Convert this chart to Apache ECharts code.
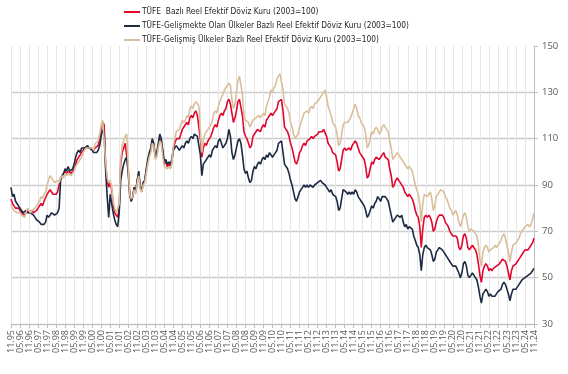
<!DOCTYPE html>
<html><head><meta charset="utf-8">
<script src="https://cdn.jsdelivr.net/npm/echarts@6/dist/echarts.min.js"></script>
<style>html,body{margin:0;padding:0;background:#fff}#c{width:568px;height:374px}</style>
</head><body><div id="c"></div>
<script>
const seriesNames = [
  'TÜFE  Bazlı Reel Efektif Döviz Kuru (2003=100)',
  'TÜFE-Gelişmekte Olan Ülkeler Bazlı Reel Efektif Döviz Kuru (2003=100)',
  'TÜFE-Gelişmiş Ülkeler Bazlı Reel Efektif Döviz Kuru (2003=100)'
];
const startMonth = 11, startYear = 1995, monthCount = 349;
const yMin = 30, yMax = 150, yStep = 20;

const tufe = [
  84,82,
  81,80,80,80,79,78,78,77,78,79,78,78,
  79,78,78,79,80,80,82,81,83,83,86,87,
  88,87,86,86,86,87,87,93,94,94,96,95,
  96,96,95,96,97,99,101,102,102,104,105,106,
  106,106,106,106,106,105,106,106,107,110,114,117,
  116,98,92,89,91,88,82,78,77,76,80,99,
  104,106,108,108,97,86,83,85,89,87,92,95,
  89,87,91,92,96,100,103,105,109,107,102,103,
  107,110,109,104,99,100,98,99,98,100,106,108,
  110,110,110,112,114,114,116,117,116,119,120,119,
  121,122,120,120,110,102,106,108,107,109,110,111,
  113,115,116,115,118,120,121,120,122,123,126,127,
  125,121,117,119,122,126,127,127,120,113,111,110,
  108,106,107,111,112,113,114,114,113,115,116,115,
  118,119,120,121,120,121,122,123,126,126,127,122,
  115,114,113,111,108,106,103,100,99,101,104,105,
  107,108,107,109,109,110,111,110,111,111,112,113,
  113,113,114,114,111,108,107,106,104,104,103,100,
  96,97,101,105,106,105,105,106,105,107,107,109,
  108,106,104,103,102,101,98,93,94,97,100,99,
  101,102,102,101,101,103,104,102,102,101,97,94,
  89,90,92,93,92,91,91,89,87,87,85,86,
  86,84,82,79,77,76,72,63,71,76,77,76,
  77,76,74,70,71,74,76,77,77,77,76,74,
  73,72,70,70,68,68,68,67,63,62,64,68,
  69,67,63,62,63,64,63,62,60,56,51,48,
  53,55,56,55,53,54,53,54,54,55,55,56,
  56,58,58,57,55,52,49,53,55,55,56,57,
  58,59,60,61,62,62,62,62,64,65,67
];
const gelismekte = [
  89,85,
  86,83,82,81,80,79,78,78,79,78,78,78,
  78,77,76,75,75,74,73,73,73,74,77,76,
  76,78,78,77,77,78,80,92,94,95,97,96,
  98,96,96,97,99,102,104,105,104,106,106,106,
  106,107,106,106,105,104,104,104,105,107,111,114,
  112,96,85,76,86,82,78,75,73,72,78,92,
  96,99,101,102,95,86,83,85,89,87,92,96,
  89,88,91,92,97,101,104,106,110,108,102,104,
  108,112,110,105,100,101,99,100,99,101,105,106,
  107,106,105,106,107,106,108,109,108,110,111,110,
  112,112,111,111,103,94,99,100,100,102,103,102,
  105,106,107,106,109,110,108,106,107,108,110,114,
  111,104,101,103,106,109,110,108,103,97,95,96,
  93,91,92,96,98,97,99,100,99,101,102,101,
  103,102,104,103,102,103,104,105,108,108,109,104,
  99,98,97,95,92,90,87,84,83,85,87,88,
  89,90,89,90,89,90,90,89,90,90,91,91,
  92,91,91,90,89,88,87,88,86,86,85,83,
  79,80,84,88,88,87,86,87,86,87,86,88,
  87,85,84,83,82,81,79,76,77,79,81,80,
  82,83,85,84,83,85,85,85,84,83,80,77,
  74,75,76,77,77,76,77,74,72,73,71,72,
  72,71,68,66,64,63,60,53,60,63,64,63,
  63,62,60,57,58,61,62,63,63,62,61,60,
  59,59,57,57,55,55,55,55,52,50,52,56,
  57,55,51,50,51,52,51,50,49,46,42,39,
  43,44,45,44,42,43,42,42,42,43,44,44,
  45,47,48,47,45,43,40,43,45,45,45,46,
  47,48,49,49,50,50,51,51,52,53,54
];
const gelismis = [
  82,80,
  79,79,78,78,78,77,77,76,78,80,79,78,
  79,79,80,81,82,83,85,84,86,87,90,92,
  94,93,92,91,91,92,91,93,94,93,95,94,
  95,95,94,95,96,98,99,100,101,102,104,105,
  106,106,106,106,106,105,108,108,109,112,116,118,
  118,100,93,91,92,89,83,80,78,78,82,101,
  107,109,111,112,98,86,84,85,88,86,91,94,
  88,87,90,91,95,99,102,104,108,107,101,102,
  106,109,108,102,98,98,97,98,97,99,107,110,
  113,113,114,116,118,117,118,120,119,123,124,123,
  125,126,125,124,113,104,110,112,112,114,115,116,
  118,121,122,121,124,126,128,129,131,131,133,134,
  133,127,123,125,130,135,137,137,129,120,118,118,
  117,115,115,118,118,119,119,120,119,120,121,120,
  124,126,128,131,130,132,133,136,137,138,138,131,
  125,124,123,121,117,115,112,110,110,112,115,117,
  119,121,121,122,121,123,124,123,125,125,126,127,
  128,128,130,131,128,124,122,120,117,116,115,112,
  107,108,112,116,117,117,117,118,119,121,123,125,
  123,120,119,117,116,115,112,106,107,110,113,112,
  114,115,114,112,113,115,116,115,114,113,109,106,
  101,102,103,104,103,102,101,100,99,98,97,98,
  97,96,93,90,88,86,82,74,82,86,86,85,
  86,87,84,79,81,85,86,87,88,88,87,85,
  84,82,80,79,77,77,79,77,74,72,74,77,
  78,76,72,70,71,71,70,70,68,64,58,55,
  61,63,64,63,61,62,62,63,64,63,64,65,
  66,68,69,67,64,61,57,61,64,64,65,66,
  67,69,70,71,72,72,73,72,73,75,78
];
const colors = ['#E2062F', '#1C2A42', '#D9BF9B'];

const categories = [];
{
  let m = startMonth, y = startYear;
  for (let k = 0; k < monthCount; k++) {
    categories.push(String(m).padStart(2, '0') + '.' + String(y % 100).padStart(2, '0'));
    m++; if (m > 12) { m = 1; y++; }
  }
}
const seriesData = [tufe, gelismekte, gelismis];

const chart = echarts.init(document.getElementById('c'), null, {renderer: 'canvas'});
const labelFont = "'Open Sans', sans-serif";
chart.setOption({
  animation: false,
  backgroundColor: '#ffffff',
  grid: {left: 11, right: 34, top: 46, bottom: 50, containLabel: false},
  legend: {
    orient: 'vertical', left: 119, top: 1, padding: [4, 5, 4, 5],
    itemWidth: 16, itemHeight: 2, itemGap: 0, icon: 'rect',
    textStyle: {fontFamily: "'DejaVu Sans Condensed', 'Liberation Sans', sans-serif", fontSize: 8.3, lineHeight: 14, color: '#262626', padding: [0, 0, 0, -3]},
    data: seriesNames
  },
  xAxis: {
    type: 'category', boundaryGap: false, data: categories,
    axisLine: {lineStyle: {color: '#bfbfbf', width: 1}},
    axisTick: {show: true, interval: 5, length: 4, lineStyle: {color: '#bfbfbf'}},
    axisLabel: {interval: 5, rotate: 90, margin: 6, fontFamily: labelFont, fontSize: 9, color: '#595959'},
    splitLine: {show: true, interval: 5, lineStyle: {color: '#e6e6e6', width: 1}}
  },
  yAxis: {
    type: 'value', position: 'right', min: yMin, max: yMax, interval: yStep,
    axisLine: {show: true, lineStyle: {color: '#bfbfbf', width: 1}},
    axisTick: {show: true, length: 4, lineStyle: {color: '#bfbfbf'}},
    axisLabel: {margin: 8, fontFamily: labelFont, fontSize: 9.5, color: '#595959'},
    splitLine: {show: true, lineStyle: {color: ['#cccccc','#cccccc','#cccccc','#cccccc','#cccccc','#cccccc','rgba(0,0,0,0)'], width: 1.3}}
  },
  series: seriesNames.map((n, k) => ({
    name: n, type: 'line', data: seriesData[k], symbol: 'none', showSymbol: false,
    lineStyle: {color: colors[k], width: 1.6}, itemStyle: {color: colors[k]}
  }))
});
</script>
</body></html>
